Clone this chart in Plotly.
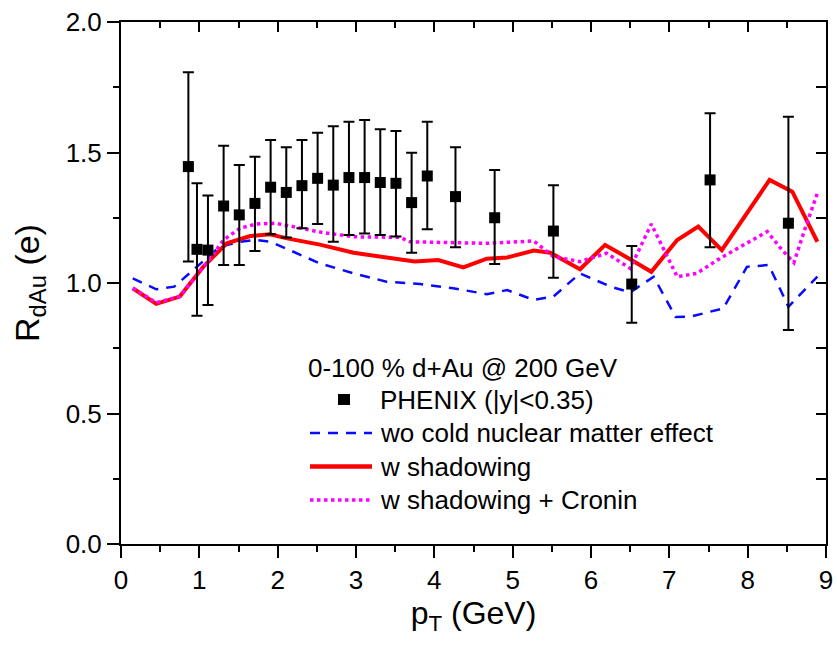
import plotly.graph_objects as go

# PHENIX d+Au data (pT in GeV, R_dAu with upper/lower error limits)
pt_data = [0.86, 0.97, 1.11, 1.31, 1.51, 1.71, 1.91, 2.11, 2.31, 2.51, 2.71, 2.91,
           3.11, 3.31, 3.51, 3.71, 3.91, 4.27, 4.77, 5.52, 6.52, 7.52, 8.52]
r_data = [1.446, 1.129, 1.126, 1.295, 1.261, 1.305, 1.367, 1.347, 1.373, 1.401, 1.375, 1.404,
          1.404, 1.385, 1.382, 1.308, 1.410, 1.331, 1.250, 1.199, 0.996, 1.395, 1.229]
r_upper = [1.807, 1.382, 1.335, 1.526, 1.452, 1.484, 1.548, 1.520, 1.548, 1.576, 1.601, 1.618,
           1.625, 1.589, 1.582, 1.499, 1.618, 1.520, 1.433, 1.375, 1.142, 1.650, 1.637]
r_lower = [1.082, 0.875, 0.916, 1.069, 1.069, 1.123, 1.187, 1.174, 1.210, 1.226, 1.158, 1.184,
           1.190, 1.184, 1.178, 1.116, 1.206, 1.137, 1.073, 1.020, 0.848, 1.137, 0.820]

# Model: without cold nuclear matter effects
pt_wo = [0.15, 0.45, 0.68, 0.97, 1.26, 1.52, 1.73, 1.91, 2.12, 2.54, 2.97, 3.39, 3.82, 4.24,
         4.67, 4.93, 5.27, 5.52, 5.86, 6.25, 6.50, 6.80, 7.08, 7.27, 7.69, 7.99, 8.27, 8.52, 8.89]
r_wo = [1.018, 0.976, 0.986, 1.062, 1.139, 1.158, 1.165, 1.158, 1.130, 1.075, 1.037, 1.005, 0.996,
        0.980, 0.957, 0.973, 0.935, 0.948, 1.037, 0.986, 0.964, 1.024, 0.870, 0.871, 0.903, 1.062,
        1.069, 0.909, 1.024]

# Model: with shadowing
pt_sh = [0.15, 0.45, 0.75, 1.05, 1.35, 1.65, 1.90, 2.12, 2.54, 2.97, 3.39, 3.75, 4.05, 4.37,
         4.67, 4.93, 5.27, 5.48, 5.86, 6.18, 6.50, 6.77, 7.10, 7.37, 7.67, 8.28, 8.57, 8.89]
r_sh = [0.980, 0.920, 0.948, 1.062, 1.152, 1.180, 1.187, 1.171, 1.147, 1.116, 1.098, 1.082, 1.088,
        1.060, 1.093, 1.098, 1.124, 1.116, 1.053, 1.146, 1.091, 1.043, 1.165, 1.216, 1.126, 1.395,
        1.350, 1.158]

# Model: with shadowing + Cronin effect
pt_cr = [0.15, 0.45, 0.75, 1.09, 1.31, 1.52, 1.73, 1.97, 2.20, 2.54, 2.97, 3.56, 3.69, 4.24,
         4.67, 5.27, 5.52, 5.86, 6.20, 6.50, 6.77, 7.10, 7.35, 7.65, 8.25, 8.44, 8.59, 8.72, 8.89]
r_cr = [0.980, 0.925, 0.948, 1.075, 1.165, 1.210, 1.226, 1.229, 1.216, 1.195, 1.177, 1.175, 1.158,
        1.156, 1.152, 1.161, 1.101, 1.082, 1.114, 1.056, 1.226, 1.024, 1.037, 1.095, 1.197, 1.126,
        1.078, 1.197, 1.344]

x_ticks = [0, 1, 2, 3, 4, 5, 6, 7, 8, 9]
y_ticks = [0.0, 0.5, 1.0, 1.5, 2.0]

legend_title = "0-100 % d+Au @ 200 GeV"
name_data = "PHENIX (|y|<0.35)"
name_wo = "wo cold nuclear matter effect"
name_sh = "w shadowing"
name_cr = "w shadowing + Cronin"

FONT = "Arial, Liberation Sans, sans-serif"
BLUE = "#0a0aff"
RED = "#ff0000"
MAGENTA = "#ff00ff"

fig = go.Figure()

fig.add_trace(go.Scatter(x=pt_wo, y=r_wo, mode="lines", name=name_wo,
                         line=dict(color=BLUE, width=2.5, dash="10px,8px")))
fig.add_trace(go.Scatter(x=pt_sh, y=r_sh, mode="lines", name=name_sh,
                         line=dict(color=RED, width=4)))
fig.add_trace(go.Scatter(x=pt_cr, y=r_cr, mode="lines", name=name_cr,
                         line=dict(color=MAGENTA, width=3.5, dash="dot")))

err_plus = [u - v for u, v in zip(r_upper, r_data)]
err_minus = [v - l for v, l in zip(r_data, r_lower)]
fig.add_trace(go.Scatter(
    x=pt_data, y=r_data, mode="markers", name=name_data,
    marker=dict(symbol="square", size=11, color="black"),
    error_y=dict(type="data", symmetric=False, array=err_plus, arrayminus=err_minus,
                 color="black", thickness=2, width=5.5),
))

# Hand-built legend block inside the plot area (paper coordinates)
def px_x(p):
    return (p - 121) / 705.0

def px_y(p):
    return (544 - p) / 522.0

shapes = []
annotations = []
text_font = dict(family=FONT, size=26, color="black")

annotations.append(dict(x=px_x(306), y=px_y(368), xref="paper", yref="paper",
                        text=legend_title, showarrow=False, xanchor="left",
                        yanchor="middle", font=text_font))
shapes.append(dict(type="rect", xref="paper", yref="paper",
                   x0=px_x(338), x1=px_x(350), y0=px_y(405), y1=px_y(394),
                   fillcolor="black", line=dict(width=0)))
rows = [
    (name_data, 400, None),
    (name_wo, 433, dict(color=BLUE, width=2.5, dash="10px,8px")),
    (name_sh, 466.5, dict(color=RED, width=4.5)),
    (name_cr, 500, dict(color=MAGENTA, width=3.5, dash="dot")),
]
for label, ypx, line in rows:
    annotations.append(dict(x=px_x(378), y=px_y(ypx), xref="paper", yref="paper",
                            text=label, showarrow=False, xanchor="left",
                            yanchor="middle", font=text_font))
    if line is not None:
        shapes.append(dict(type="line", xref="paper", yref="paper",
                           x0=px_x(310), x1=px_x(372), y0=px_y(ypx), y1=px_y(ypx),
                           line=line))

axis_common = dict(showgrid=False, zeroline=False, showline=True, linecolor="black",
                   linewidth=2, tickcolor="black", tickwidth=2,
                   tickfont=dict(family=FONT, size=26, color="black"))

fig.update_layout(
    width=837, height=645,
    margin=dict(l=121, r=11, t=22, b=101, autoexpand=False),
    paper_bgcolor="white", plot_bgcolor="white",
    showlegend=False,
    shapes=shapes, annotations=annotations,
    xaxis=dict(range=[0, 9], tickvals=x_ticks, ticks="outside", ticklen=12,
               minor=dict(dtick=0.5, ticks="outside", ticklen=6, tickcolor="black", tickwidth=2),
               title=dict(text="p<sub>T</sub> (GeV)", standoff=2,
                          font=dict(family=FONT, size=32, color="black")),
               **axis_common),
    yaxis=dict(range=[0, 2], tickvals=y_ticks, tickformat=".1f", ticks="outside", ticklen=12,
               minor=dict(dtick=0.25, ticks="outside", ticklen=6, tickcolor="black", tickwidth=2),
               title=dict(text="R<sub>dAu</sub> (e)", standoff=16,
                          font=dict(family=FONT, size=34, color="black")),
               **axis_common),
    # mirrored frame with inward ticks on the top and right
    xaxis2=dict(range=[0, 9], overlaying="x", side="top", tickvals=x_ticks,
                showticklabels=False, ticks="inside", ticklen=10, showgrid=False,
                zeroline=False, showline=True, linecolor="black", linewidth=2,
                tickcolor="black", tickwidth=2,
                minor=dict(dtick=0.5, ticks="inside", ticklen=6, tickcolor="black", tickwidth=2)),
    yaxis2=dict(range=[0, 2], overlaying="y", side="right", tickvals=y_ticks,
                showticklabels=False, ticks="inside", ticklen=10, showgrid=False,
                zeroline=False, showline=True, linecolor="black", linewidth=2,
                tickcolor="black", tickwidth=2,
                minor=dict(dtick=0.25, ticks="inside", ticklen=10, tickcolor="black", tickwidth=2)),
)

# invisible trace to activate the mirrored axes
fig.add_trace(go.Scatter(x=[0], y=[0], xaxis="x2", yaxis="y2", mode="markers",
                         marker=dict(opacity=0), hoverinfo="skip", showlegend=False))

fig.write_html("out.html")
